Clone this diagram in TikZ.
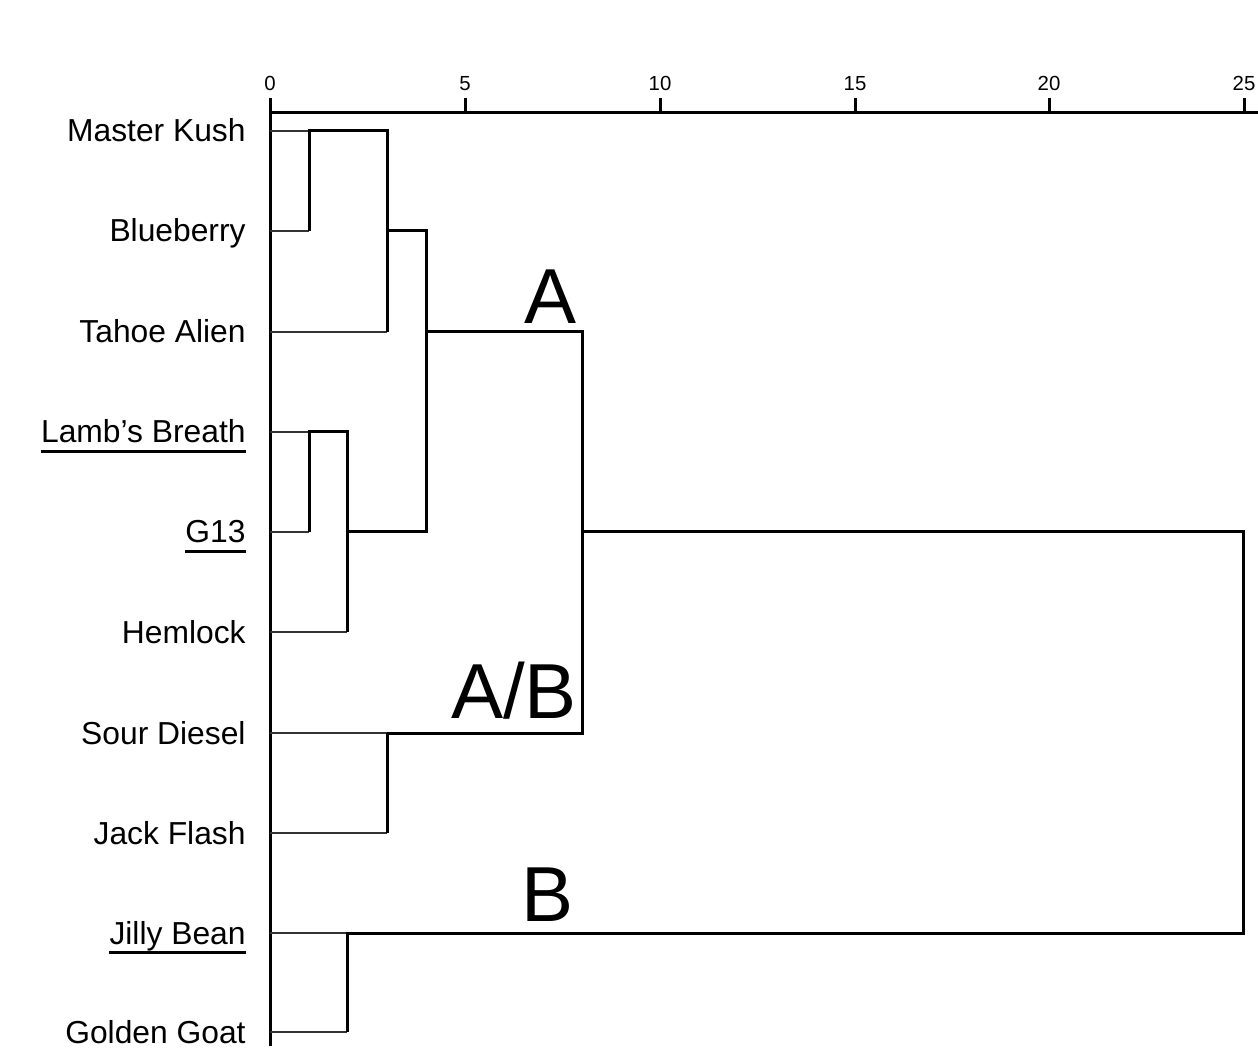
\documentclass[tikz,border=0pt]{standalone}
\usepackage{fontspec}
\setmainfont{Liberation Sans}
\begin{document}
\begin{tikzpicture}[x=0.5pt,y=-0.5pt,
  dark/.style={draw=black,line width=1.5pt},
  leaf/.style={draw=black!80,line width=1.3pt},
  lbl/.style={anchor=base east,inner sep=0pt,font=\fontsize{15.9}{19}\selectfont},
  ticklbl/.style={anchor=base,inner sep=0pt,font=\fontsize{10.2}{12}\selectfont},
  big/.style={anchor=base,inner sep=0pt,font=\fontsize{39}{44}\selectfont},
  uline/.style={draw=black,line width=1.2pt}]
\useasboundingbox[fill=white] (0,0) rectangle (1258,1058);

% axis
\coordinate (ax0) at (270,113);
\coordinate (axend) at (1258,113);
\draw[dark] (ax0) -- (axend);
\foreach \v/\x in {0/270,5/465,10/660,15/855,20/1049,25/1244}{
  \coordinate (tk\v) at (\x,113);
  \draw[dark] (tk\v) -- ++(0,-15);
  \node[ticklbl] (tl\v) at (\x,91) {\v};
}
% left baseline
\coordinate (vtop) at (270,98);
\coordinate (vbot) at (270,1046);
\draw[dark] (vtop) -- (vbot);

% leaves
\foreach \i/\y in {1/131,2/231,3/332,4/432,5/532,6/632,7/733,8/833,9/933,10/1032}{
  \coordinate (L\i) at (270,\y);
}
\node[lbl] (t1) at (246,142) {Master Kush};
\node[lbl] (t2) at (246,242) {Blueberry};
\node[lbl] (t3) at (246,343) {Tahoe Alien};
\node[lbl] (t4) at (246,443) {Lamb’s Breath};
\node[lbl] (t5) at (246,543) {G13};
\node[lbl] (t6) at (246,643) {Hemlock};
\node[lbl] (t7) at (246,744) {Sour Diesel};
\node[lbl] (t8) at (246,844) {Jack Flash};
\node[lbl] (t9) at (246,944) {Jilly Bean};
\node[lbl] (t10) at (246,1043) {Golden Goat};
\foreach \n in {t4,t5,t9}{
  \draw[uline] ([yshift=-4.3pt]\n.base west) -- ([yshift=-4.3pt]\n.base east);
}

% merge coordinates
\coordinate (m1a) at (309,131); \coordinate (m1b) at (309,231);
\coordinate (m2a) at (387,131); \coordinate (m2b) at (387,332);
\coordinate (m3a) at (309,432); \coordinate (m3b) at (309,532);
\coordinate (m4a) at (347,432); \coordinate (m4b) at (347,632);
\coordinate (m5a) at (426,231); \coordinate (m5b) at (426,532);
\coordinate (m6a) at (387,733); \coordinate (m6b) at (387,833);
\coordinate (m7a) at (582,332); \coordinate (m7b) at (582,733);
\coordinate (m8a) at (347,933); \coordinate (m8b) at (347,1032);
\coordinate (m9a) at (1243,532); \coordinate (m9b) at (1243,933);

% leaf segments
\draw[leaf] (L1) -- (m1a);
\draw[leaf] (L2) -- (m1b);
\draw[leaf] (L3) -- (m2b);
\draw[leaf] (L4) -- (m3a);
\draw[leaf] (L5) -- (m3b);
\draw[leaf] (L6) -- (m4b);
\draw[leaf] (L7) -- (m6a);
\draw[leaf] (L8) -- (m6b);
\draw[leaf] (L9) -- (m8a);
\draw[leaf] (L10) -- (m8b);

% cluster lines
\draw[dark] (m1b) -- (m1a) -- (m2a) -- (m2b);
\draw[dark] (m3b) -- (m3a) -- (m4a) -- (m4b);
\draw[dark] (m2a |- m5a) -- (m5a) -- (m5b) -- (m4a |- m5b);
\draw[dark] (m5b |- m7a) -- (m7a) -- (m7b) -- (m6a);
\draw[dark] (m6a) -- (m6b);
\draw[dark] (m7a |- m9a) -- (m9a) -- (m9b) -- (m8a) -- (m8b);

% group labels
\node[big] (gA) at (551,324) {A};
\node[big] (gAB) at (514,718) {A/B};
\node[big] (gB) at (548,921) {B};
\end{tikzpicture}
\end{document}
